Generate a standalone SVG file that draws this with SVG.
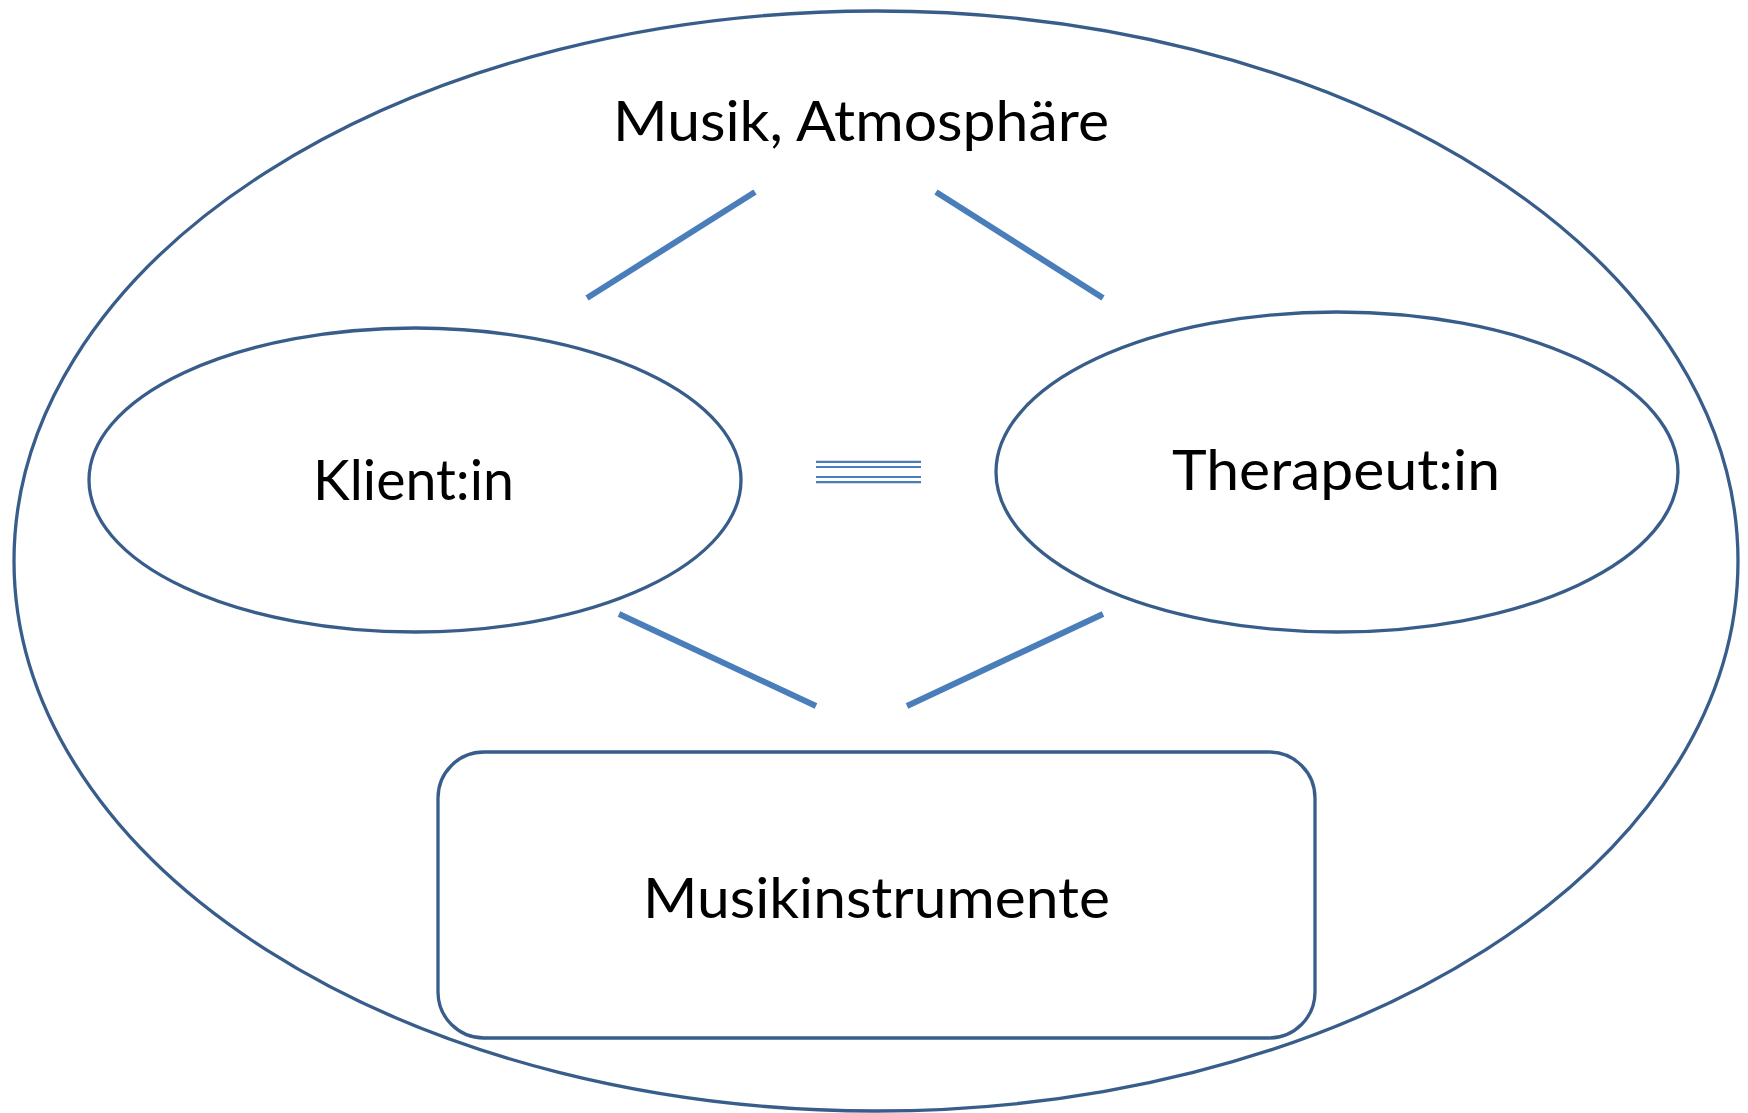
<svg xmlns="http://www.w3.org/2000/svg" width="1748" height="1113" viewBox="0 0 1748 1113">
<style>
.shape{fill:none;stroke:#385D8A;stroke-width:3.3}
.conn{stroke:#4A7EBB;stroke-width:6;fill:none}
.eq{stroke:#4A7EBB;stroke-width:2.2}
.lbl{font-family:Lato,"Open Sans","Liberation Sans",sans-serif;font-size:56px;fill:#000}
</style>
<rect width="1748" height="1113" fill="#fff"/>
<g id="outer">
<ellipse class="shape" cx="876" cy="561" rx="862" ry="550"/>
<text class="lbl" x="613" y="141" textLength="496" lengthAdjust="spacingAndGlyphs">Musik, Atmosphäre</text>
</g>
<g id="klient">
<ellipse class="shape" cx="415" cy="480" rx="326" ry="152"/>
<text class="lbl" x="313" y="500" textLength="201" lengthAdjust="spacingAndGlyphs">Klient:in</text>
</g>
<g id="therapeut">
<ellipse class="shape" cx="1337" cy="472" rx="341" ry="160"/>
<text class="lbl" x="1172" y="490" textLength="328" lengthAdjust="spacingAndGlyphs">Therapeut:in</text>
</g>
<g id="instrumente">
<rect class="shape" x="438" y="752" width="877" height="286" rx="46" ry="46"/>
<text class="lbl" x="643" y="918" textLength="467" lengthAdjust="spacingAndGlyphs">Musikinstrumente</text>
</g>
<g id="connectors">
<line class="conn" x1="587" y1="298" x2="755" y2="192"/>
<line class="conn" x1="936" y1="192" x2="1103" y2="298"/>
<line class="conn" x1="619" y1="614" x2="816" y2="706"/>
<line class="conn" x1="907" y1="706" x2="1103" y2="614"/>
<line class="eq" x1="816" y1="461.8" x2="921" y2="461.8"/>
<line class="eq" x1="816" y1="467" x2="921" y2="467"/>
<line class="eq" x1="816" y1="477" x2="921" y2="477"/>
<line class="eq" x1="816" y1="482.2" x2="921" y2="482.2"/>
</g>
</svg>
